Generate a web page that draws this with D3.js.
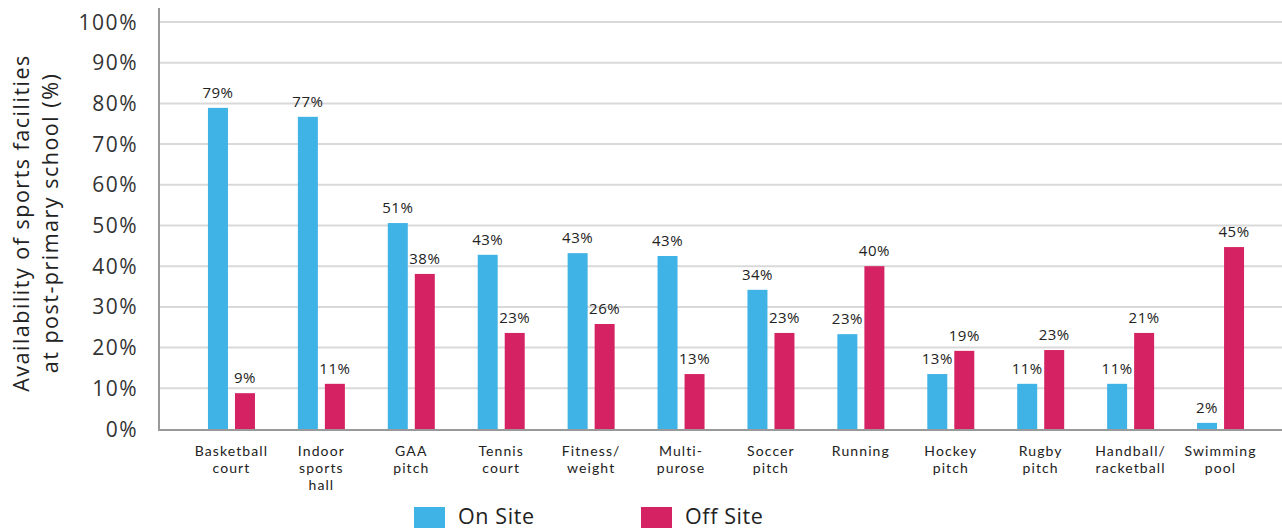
<!DOCTYPE html>
<html><head><meta charset="utf-8">
<script src="https://cdn.jsdelivr.net/npm/d3@7"></script>
<style>
html,body{margin:0;padding:0;background:#fff;}
svg{display:block;font-family:"Open Sans", "Noto Sans", sans-serif;}
</style></head>
<body><svg id="chart" width="1282" height="530"></svg>
<script>
const categories = [
  ["Basketball","court"],["Indoor","sports","hall"],["GAA","pitch"],["Tennis","court"],
  ["Fitness/","weight"],["Multi-","purose"],["Soccer","pitch"],["Running"],
  ["Hockey","pitch"],["Rugby","pitch"],["Handball/","racketball"],["Swimming","pool"]
];
const onSite  = [78.9, 76.7, 50.6, 42.8, 43.2, 42.5, 34.2, 23.3, 13.5, 11.1, 11.1, 1.5];
const offSite = [8.8, 11.1, 38.1, 23.6, 25.8, 13.5, 23.6, 40.0, 19.2, 19.4, 23.6, 44.7];
const onLabels  = ["79%","77%","51%","43%","43%","43%","34%","23%","13%","11%","11%","2%"];
const offLabels = ["9%","11%","38%","23%","26%","13%","23%","40%","19%","23%","21%","45%"];
const yTicks = [0,10,20,30,40,50,60,70,80,90,100];
const seriesNames = ["On Site","Off Site"];
const colors = ["#3FB2E6","#D52262"];

const svg = d3.select("#chart");
const x0 = d3.scaleBand().domain(d3.range(categories.length)).range([186.5, 1265.5]).padding(0);
const x1 = d3.scaleBand().domain([0,1]).range([-23.5, 23.5]).paddingInner(0.26);
const y = d3.scaleLinear().domain([0,100]).range([429, 22]);

// gridlines
svg.append("g").selectAll("line").data(yTicks.filter(d=>d>0)).join("line")
  .attr("x1",159).attr("x2",1282).attr("y1",d=>y(d)).attr("y2",d=>y(d))
  .attr("stroke","#d9d9d9").attr("stroke-width",2);

// y tick labels
svg.append("g").selectAll("text").data(yTicks).join("text")
  .attr("x",138).attr("y",d=>y(d)).attr("dy","0.36em")
  .attr("text-anchor","end").attr("font-size",21).attr("letter-spacing",1.5).attr("fill","#333")
  .text(d=>d+"%");

// y title
const yt = svg.append("text").attr("transform","translate(0,223) rotate(-90)")
  .attr("text-anchor","middle").attr("font-size",21.5).attr("letter-spacing",1.5).attr("fill","#222");
yt.append("tspan").attr("x",0).attr("y",29).text("Availability of sports facilities");
yt.append("tspan").attr("x",0).attr("y",58).text("at post-primary school (%)");

// bars
const series = [onSite, offSite];
const labels = [onLabels, offLabels];
series.forEach((vals, s) => {
  const g = svg.append("g");
  g.selectAll("rect").data(vals).join("rect")
    .attr("x",(d,i)=>x0(i)+x0.bandwidth()/2+x1(s))
    .attr("width",x1.bandwidth())
    .attr("y",d=>y(d)).attr("height",d=>y(0)-y(d))
    .attr("fill",colors[s]);
  g.selectAll("text").data(vals).join("text")
    .attr("x",(d,i)=>x0(i)+x0.bandwidth()/2+x1(s)+x1.bandwidth()/2)
    .attr("y",d=>y(d)-10)
    .attr("text-anchor","middle").attr("font-size",15).attr("letter-spacing",0.5).attr("fill","#222")
    .text((d,i)=>labels[s][i]);
});

// axes lines
svg.append("line").attr("x1",159).attr("x2",159).attr("y1",8).attr("y2",430)
  .attr("stroke","#999").attr("stroke-width",2);
svg.append("line").attr("x1",158).attr("x2",1282).attr("y1",430).attr("y2",430)
  .attr("stroke","#999").attr("stroke-width",2);

// category labels
categories.forEach((lines,i)=>{
  lines.forEach((ln,k)=>{
    svg.append("text").attr("x",x0(i)+x0.bandwidth()/2).attr("y",456+k*17)
      .attr("text-anchor","middle").attr("font-family","Lato, sans-serif")
      .attr("font-size",14).attr("letter-spacing",1.1).attr("fill","#222").text(ln);
  });
});

// legend
const lx = [414, 641];
seriesNames.forEach((n,s)=>{
  svg.append("rect").attr("x",lx[s]).attr("y",507).attr("width",31).attr("height",21).attr("fill",colors[s]);
  svg.append("text").attr("x",lx[s]+44).attr("y",524).attr("font-size",21.5).attr("letter-spacing",0.6).attr("fill","#222").text(n);
});
</script></body></html>
